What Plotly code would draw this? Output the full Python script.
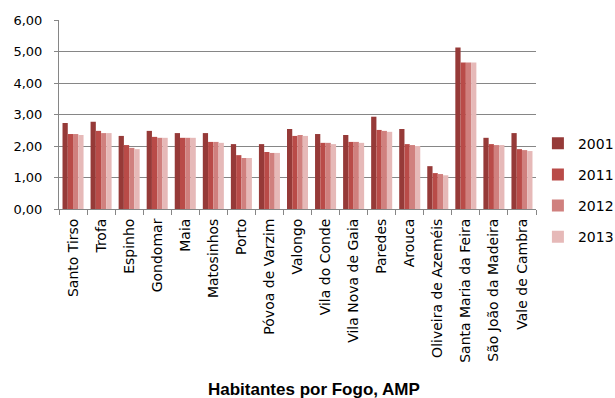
import plotly.graph_objects as go

categories = ["Santo Tirso", "Trofa", "Espinho", "Gondomar", "Maia", "Matosinhos",
              "Porto", "Póvoa de Varzim", "Valongo", "Vila do Conde", "Vila Nova de Gaia",
              "Paredes", "Arouca", "Oliveira de Azeméis", "Santa Maria da Feira",
              "São João da Madeira", "Vale de Cambra"]

v2001 = [2.73, 2.77, 2.32, 2.48, 2.41, 2.41, 2.06, 2.06, 2.54, 2.38, 2.35, 2.93, 2.54, 1.36, 5.13, 2.26, 2.41]
v2011 = [2.38, 2.48, 2.03, 2.29, 2.26, 2.13, 1.71, 1.81, 2.32, 2.10, 2.13, 2.51, 2.06, 1.14, 4.65, 2.06, 1.90]
v2012 = [2.38, 2.41, 1.94, 2.26, 2.26, 2.13, 1.62, 1.78, 2.35, 2.10, 2.13, 2.48, 2.03, 1.11, 4.65, 2.03, 1.87]
v2013 = [2.35, 2.41, 1.90, 2.26, 2.26, 2.10, 1.62, 1.78, 2.32, 2.06, 2.10, 2.45, 2.00, 1.07, 4.65, 2.03, 1.84]

series = [("2001", v2001, "#963A38"), ("2011", v2011, "#B94B48"),
          ("2012", v2012, "#D0807E"), ("2013", v2013, "#E6B9B8")]

fig = go.Figure()
for i, (name, vals, col) in enumerate(series):
    fig.add_trace(go.Bar(x=categories, y=vals, name=name, marker_color=col,
                         marker_line_width=0, legendgroup=name))

axis_col = "#868686"
fig.update_layout(
    width=615, height=398,
    margin=dict(l=59, r=79, t=20, b=189, autoexpand=False),
    plot_bgcolor="white", paper_bgcolor="white",
    barmode="group", bargap=0.25, bargroupgap=0,
    separators=",.",
    font=dict(family="DejaVu Sans, Arial, sans-serif", color="black"),
    showlegend=True,
    legend=dict(x=1.004, y=0.10, xanchor="left", yanchor="middle",
                font=dict(size=14, color="black"), traceorder="grouped",
                tracegroupgap=10, itemwidth=30, bgcolor="rgba(0,0,0,0)"),
    xaxis=dict(type="category", tickangle=-90, tickfont=dict(size=14),
               showline=True, linecolor=axis_col, linewidth=1,
               ticks="outside", tickson="boundaries", ticklen=5, tickcolor=axis_col,
               ticklabelstandoff=3, showgrid=False),
    yaxis=dict(range=[0, 6], dtick=1, tickformat=".2f", tickfont=dict(size=13),
               showline=True, linecolor=axis_col, linewidth=1,
               ticks="outside", ticklen=4, tickcolor=axis_col, ticklabelstandoff=9,
               showgrid=True, gridcolor=axis_col, gridwidth=1, zeroline=False),
    annotations=[dict(text="<b>Habitantes por Fogo, AMP</b>", xref="paper", yref="paper",
                      x=0.535, y=-0.894, xanchor="center", yanchor="top",
                      showarrow=False, font=dict(family="Liberation Sans, Arial, sans-serif",
                                                 size=17, color="black"))],
)

fig.write_html("out.html", config={"displayModeBar": False},
               post_script="document.body.style.margin='0';")
